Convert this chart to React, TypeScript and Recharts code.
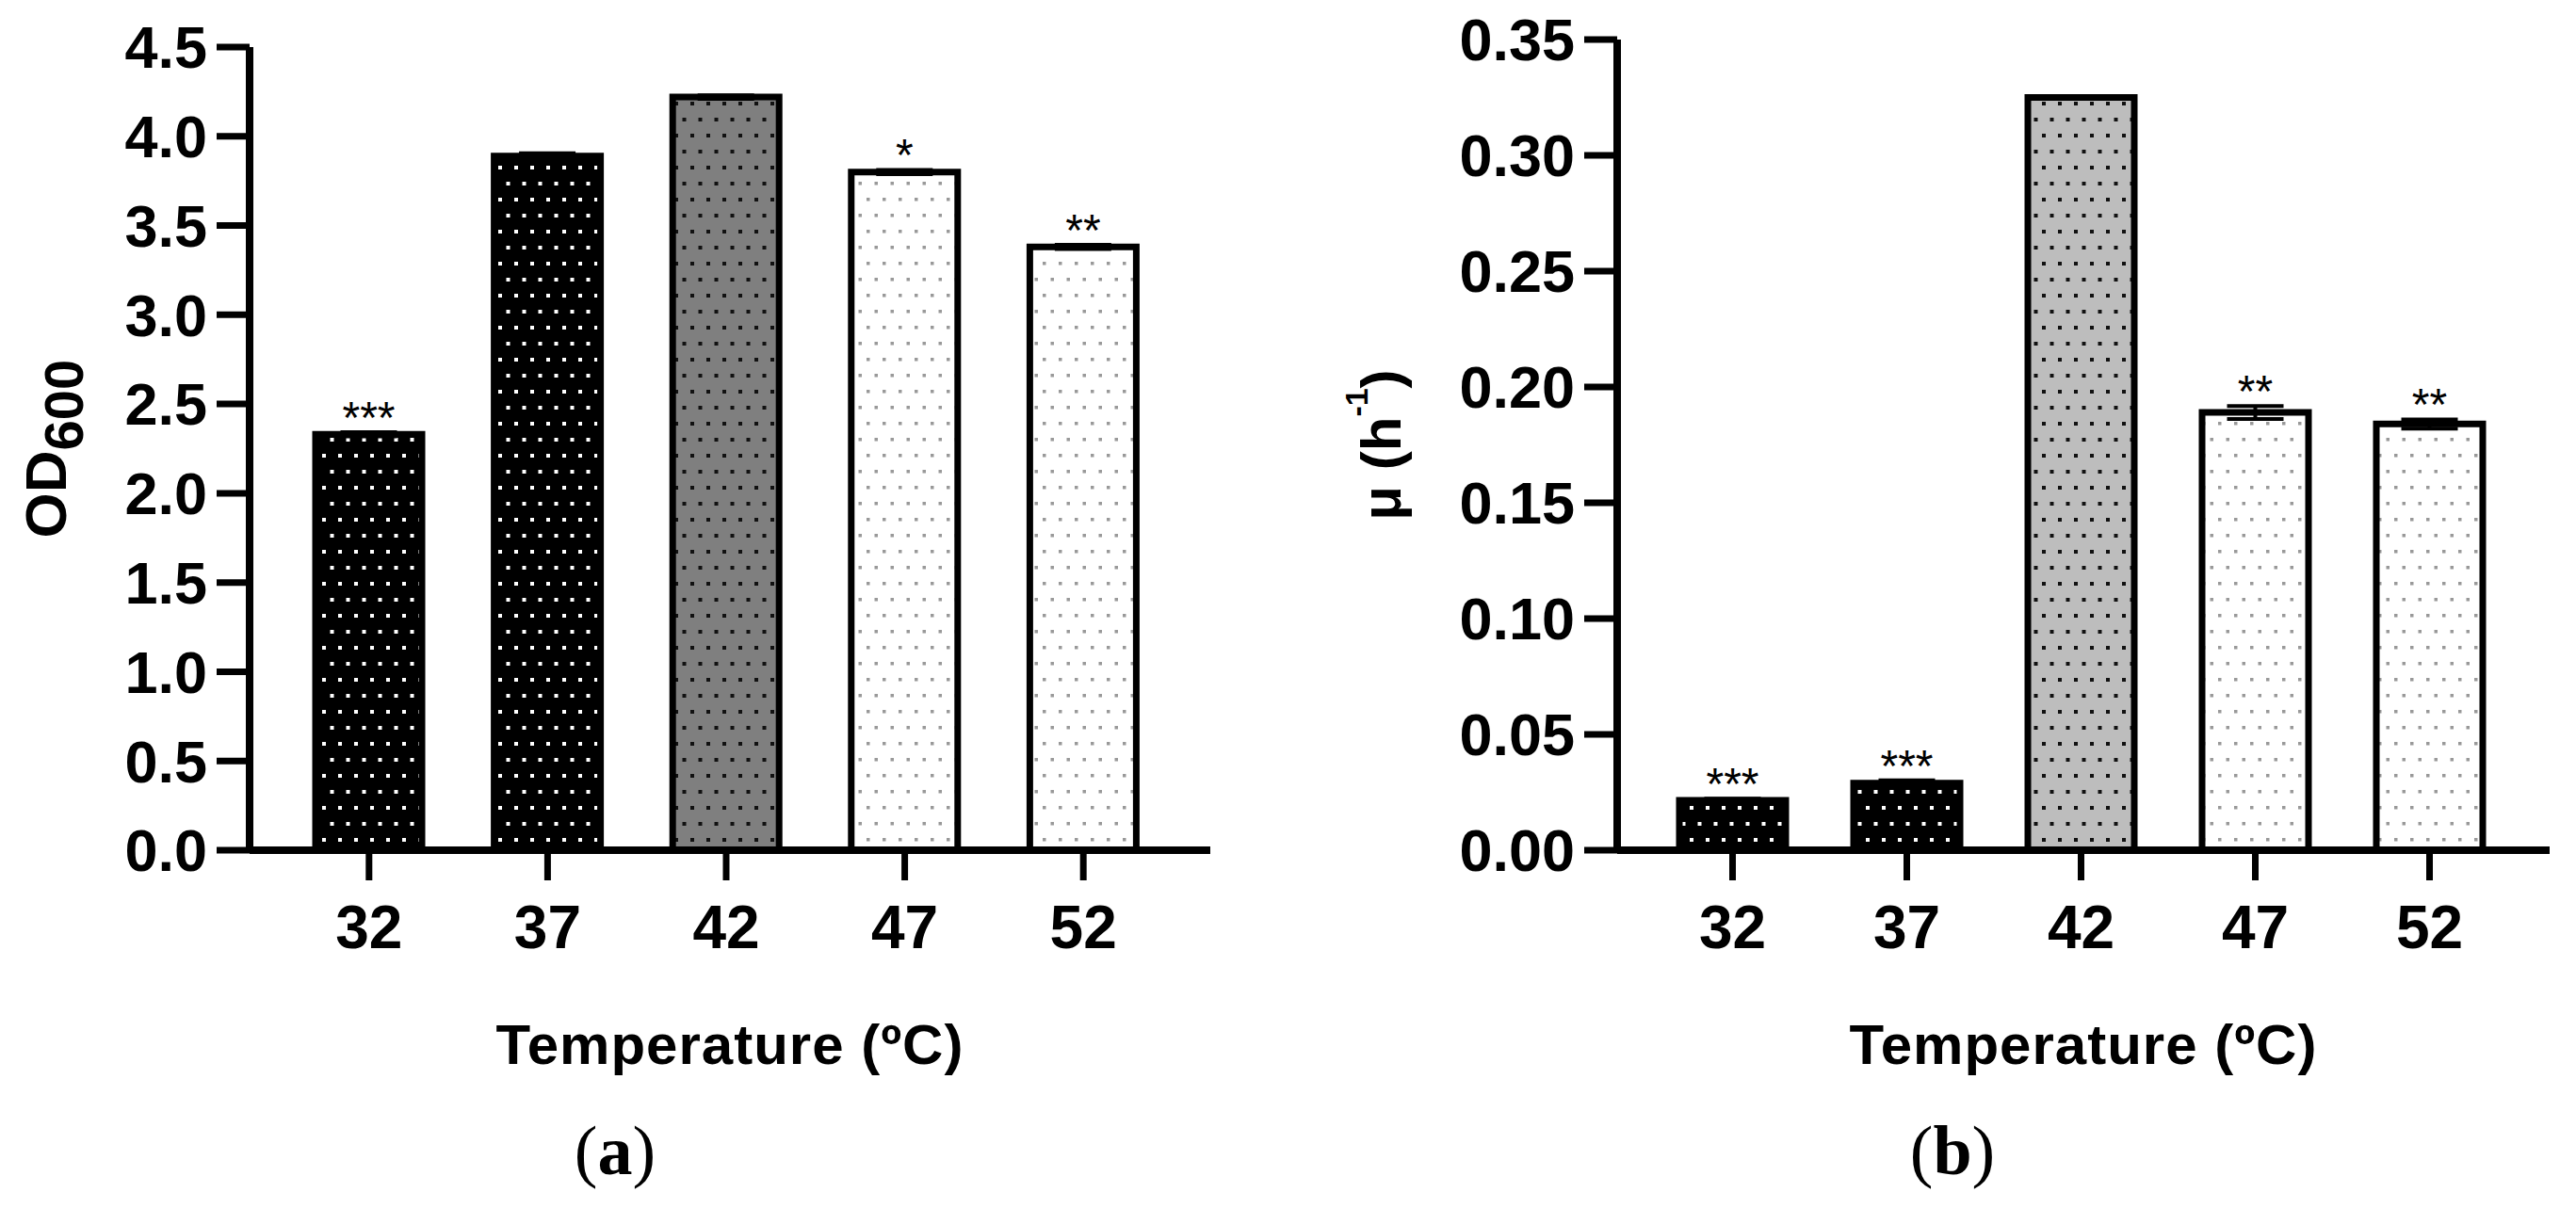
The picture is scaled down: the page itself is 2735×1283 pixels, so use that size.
import * as React from "react"
import { Bar, BarChart, Cell, ErrorBar, LabelList, XAxis, YAxis } from "recharts"

const temperatures = ["32", "37", "42", "47", "52"]

// (a) OD600 reached at each temperature
const odValues = [2.33, 3.89, 4.22, 3.8, 3.38]
const odErrors = [0.012, 0.015, 0.01, 0.012, 0.012]
const odMarks = ["***", "", "", "*", "**"]
const odTicks = [0, 0.5, 1, 1.5, 2, 2.5, 3, 3.5, 4, 4.5]

// (b) specific growth rate μ
const muValues = [0.0215, 0.029, 0.325, 0.189, 0.184]
const muErrors = [0.0008, 0.0012, 0.0006, 0.0028, 0.002]
const muMarks = ["***", "***", "", "**", "**"]
const muTicks = [0, 0.05, 0.1, 0.15, 0.2, 0.25, 0.3, 0.35]

const SANS = "'Liberation Sans', Arial, sans-serif"
const SERIF = "'Liberation Serif', 'Times New Roman', serif"

type Fill = { bg: string; dot: string; size: number }

function DotPattern({ id, bg, dot, size }: Fill & { id: string }) {
  // staggered dot grid, like the GraphPad fills
  return (
    <pattern id={id} patternUnits="userSpaceOnUse" width={17} height={34}>
      <rect width={17} height={34} fill={bg} />
      <rect x={2} y={6} width={size} height={size} fill={dot} />
      <rect x={10.5} y={23} width={size} height={size} fill={dot} />
    </pattern>
  )
}

function markRenderer(values: number[], errors: number[], marks: string[]) {
  return (props: any) => {
    const i = Number(props.value)
    const mark = marks[i]
    if (!mark) return null
    const box = props.viewBox && props.viewBox.width !== undefined ? props.viewBox : props
    const { x, y, width, height } = box
    const capTop = y - (height / values[i]) * errors[i]
    return (
      <text x={x + width / 2} y={capTop + 1} textAnchor="middle" fontSize={48} fontFamily={SANS} fill="#000">
        {mark}
      </text>
    )
  }
}

interface PanelProps {
  id: string
  values: number[]
  errors: number[]
  marks: string[]
  ticks: number[]
  digits: number
  fills: Fill[]
  left: number
  width: number
  margin: { top: number; right: number; bottom: number; left: number }
  padding: { left: number; right: number }
  yLabel: (cy: number) => React.ReactNode
  caption: string
  captionX: number
}

function Panel(p: PanelProps) {
  const data = temperatures.map((t, i) => ({ t, v: p.values[i], err: p.errors[i], idx: i }))
  const axisLine = { stroke: "#000", strokeWidth: 8 }
  const tickLine = { stroke: "#000", strokeWidth: 7 }
  const tickFont = { fill: "#000", fontSize: 63, fontWeight: 700, fontFamily: SANS }
  const plotBottom = 1283 - p.margin.bottom - 60
  const plotCenterY = (p.margin.top + plotBottom) / 2
  const plotCenterX = (p.margin.left + 150 + p.width - p.margin.right) / 2

  return (
    <div style={{ position: "absolute", left: p.left, top: 0, width: p.width, height: 1283 }}>
      <BarChart width={p.width} height={1283} data={data} margin={p.margin} barSize={113}>
        <defs>
          {p.fills.map((f, i) => (
            <DotPattern key={i} id={`${p.id}-fill-${i}`} {...f} />
          ))}
        </defs>
        <XAxis
          dataKey="t"
          height={60}
          padding={p.padding}
          axisLine={axisLine}
          tickLine={tickLine}
          tickSize={32}
          tickMargin={27}
          tick={{ ...tickFont, fontSize: 64 }}
          label={(props: any) => {
            const vb = props.viewBox ?? {}
            const cx = vb.width !== undefined ? vb.x + vb.width / 2 : plotCenterX
            return (
              <g>
                <text x={cx} y={plotBottom + 227} textAnchor="middle" fontSize={60} fontWeight={700}
                  fontFamily={SANS} letterSpacing={1} fill="#000">
                  Temperature (ºC)
                </text>
                <text x={p.captionX} y={1247} textAnchor="middle" fontSize={74} fontFamily={SERIF} fill="#000">
                  (<tspan fontWeight={700}>{p.caption}</tspan>)
                </text>
              </g>
            )
          }}
        />
        <YAxis
          width={150}
          domain={[p.ticks[0], p.ticks[p.ticks.length - 1]]}
          ticks={p.ticks}
          interval={0}
          tickFormatter={(v: number) => v.toFixed(p.digits)}
          axisLine={axisLine}
          tickLine={tickLine}
          tickSize={35}
          tickMargin={10}
          tick={tickFont}
          label={(props: any) => {
            const vb = props.viewBox ?? {}
            const cy = vb.height !== undefined ? vb.y + vb.height / 2 : plotCenterY
            return p.yLabel(cy)
          }}
        />
        <Bar dataKey="v" stroke="#000" strokeWidth={7} isAnimationActive={false}>
          {data.map((d) => (
            <Cell key={d.t} fill={`url(#${p.id}-fill-${d.idx})`} />
          ))}
          <ErrorBar dataKey="err" direction="y" width={30} stroke="#000" strokeWidth={4} isAnimationActive={false} />
          <LabelList dataKey="idx" content={markRenderer(p.values, p.errors, p.marks)} />
        </Bar>
      </BarChart>
    </div>
  )
}

const darkFill: Fill = { bg: "#000", dot: "#fff", size: 4 }
const lightFill: Fill = { bg: "#fff", dot: "#999", size: 3.5 }

export default function App() {
  return (
    <div style={{ position: "absolute", left: 0, top: 0, width: 2735, height: 1283, background: "#fff" }}>
      <Panel
        id="od"
        values={odValues}
        errors={odErrors}
        marks={odMarks}
        ticks={odTicks}
        digits={1}
        fills={[darkFill, darkFill, { bg: "#7f7f7f", dot: "#111", size: 4 }, lightFill, lightFill]}
        left={0}
        width={1367}
        margin={{ top: 50, right: 82, bottom: 320, left: 115 }}
        padding={{ left: 32, right: 40 }}
        caption="a"
        captionX={653}
        yLabel={(cy) => (
          <text x={70} y={cy} transform={`rotate(-90, 70, ${cy})`} textAnchor="middle" fontSize={62}
            fontWeight={700} fontFamily={SANS} fill="#000">
            OD<tspan fontSize={58} dy={18}>600</tspan>
          </text>
        )}
      />
      <Panel
        id="mu"
        values={muValues}
        errors={muErrors}
        marks={muMarks}
        ticks={muTicks}
        digits={2}
        fills={[darkFill, darkFill, { bg: "#bdbdbd", dot: "#111", size: 4 }, lightFill, lightFill]}
        left={1367}
        width={1368}
        margin={{ top: 42, right: 28, bottom: 320, left: 200 }}
        padding={{ left: 30, right: 35 }}
        caption="b"
        captionX={706}
        yLabel={(cy) => (
          <text x={120} y={cy} transform={`rotate(-90, 120, ${cy})`} textAnchor="middle" fontSize={60}
            fontWeight={700} fontFamily={SANS} fill="#000">
            μ (h<tspan fontSize={34} dy={-35}>-1</tspan>
            <tspan dy={35}>)</tspan>
          </text>
        )}
      />
    </div>
  )
}
